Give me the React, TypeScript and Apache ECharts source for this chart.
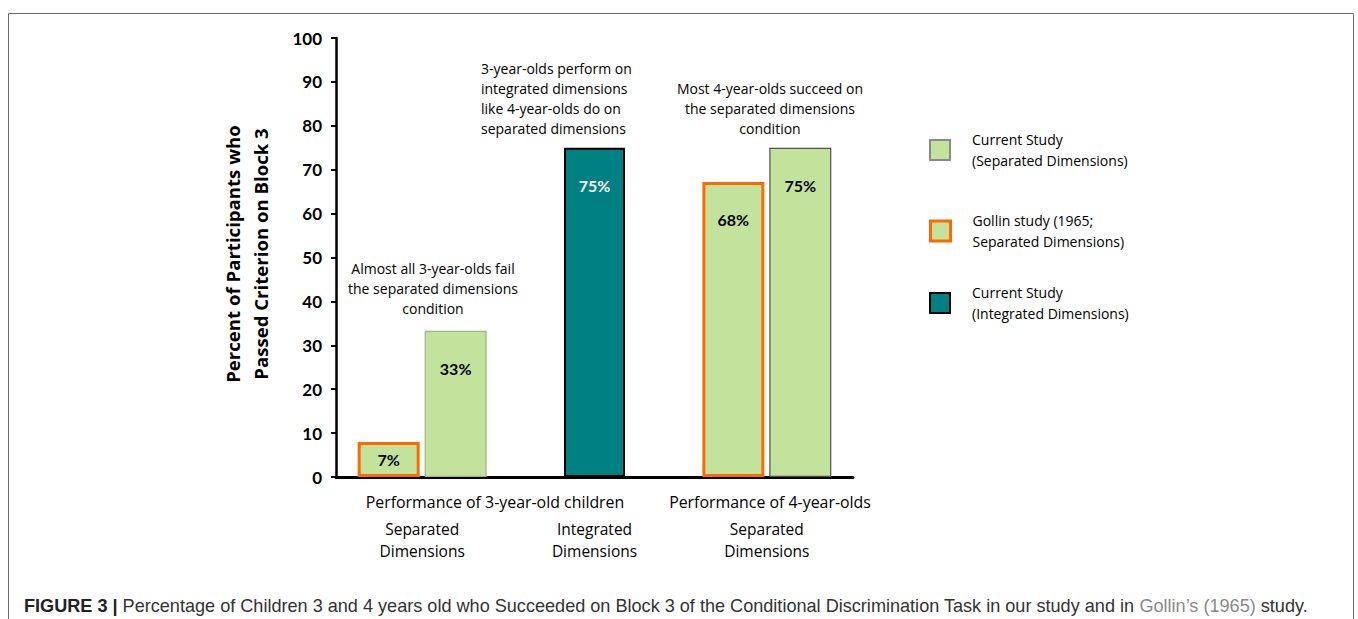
import React, { useEffect, useRef } from "react";
import * as echarts from "echarts";

// ---- data ----
const conditions = ["Separated\nDimensions", "Integrated\nDimensions", "Separated\nDimensions"];
const groupHeadings = ["Performance of 3-year-old children", "Performance of 4-year-olds"];
const seriesNames = [
  "Current Study\n(Separated Dimensions)",
  "Gollin study (1965;\nSeparated Dimensions)",
  "Current Study\n(Integrated Dimensions)",
];
const gollinValues = [8, null, 67.2];
const gollinLabels = ["7%", "", "68%"];
const currentSepValues = [33.3, null, 75];
const currentSepLabels = ["33%", "", "75%"];
const integratedValues = [null, 75, null];
const integratedLabels = ["", "75%", ""];
const annotations = [
  "Almost all 3-year-olds fail\nthe separated dimensions\ncondition",
  "3-year-olds perform on\nintegrated dimensions\nlike 4-year-olds do on\nseparated dimensions",
  "Most 4-year-olds succeed on\nthe separated dimensions\ncondition",
];
const yTitle = "Percent of Participants who\nPassed Criterion on Block 3";
const captionBold = "FIGURE 3 |";
const captionText =
  " Percentage of Children 3 and 4 years old who Succeeded on Block 3 of the Conditional Discrimination Task in our study and in ";
const captionRef = "Gollin\u2019s (1965)";
const captionEnd = " study.";

// ---- styles ----
const FONT = "'Open Sans', Lato, sans-serif";
const TICKFONT = "Lato, 'Open Sans', sans-serif";
const CAPFONT = "'Liberation Sans', Arial, sans-serif";
const GREEN = "#c3e29b";
const ORANGE = "#ff6a00";
const TEAL = "#008080";
const currentBorders = ["#9fb386", "#505050"];

export default function App() {
  const ref = useRef<HTMLDivElement>(null);

  useEffect(() => {
    if (!ref.current) return;
    const chart = echarts.init(ref.current, null, { renderer: "svg" });

    const labelBase = {
      show: true,
      distance: 30,
      fontSize: 16,
      fontWeight: "bold" as const,
      fontFamily: TICKFONT,
      color: "#000",
    };
    const pos = (v: number | null) => (v != null && v < 15 ? "inside" : "insideTop");

    const legendStyles = [
      { color: GREEN, borderColor: "#8a8a8a", borderWidth: 2 },
      { color: GREEN, borderColor: ORANGE, borderWidth: 3 },
      { color: TEAL, borderColor: "#000", borderWidth: 2 },
    ];
    const legendTops = [124, 205, 277];

    const option: any = {
      animation: false,
      backgroundColor: "#fff",
      grid: { left: 336, top: 38, right: 505, bottom: 142, containLabel: false },
      xAxis: [
        {
          type: "category",
          data: conditions,
          axisLine: { lineStyle: { color: "#000", width: 3 } },
          axisTick: { show: false },
          axisLabel: {
            interval: 0,
            margin: 41,
            fontSize: 15.5,
            lineHeight: 22,
            color: "#000",
            fontFamily: FONT,
          },
        },
        { type: "category", data: conditions, show: false },
      ],
      yAxis: {
        type: "value",
        min: 0,
        max: 100,
        interval: 10,
        axisLine: { show: true, lineStyle: { color: "#000", width: 2.5 } },
        axisTick: { show: true, length: 5, lineStyle: { color: "#000", width: 2 } },
        splitLine: { show: false },
        axisLabel: {
          margin: 14,
          fontSize: 17,
          fontWeight: "bold",
          color: "#000",
          fontFamily: TICKFONT,
        },
      },
      legend: seriesNames.map((n, i) => ({
        data: [{ name: n, itemStyle: legendStyles[i] }],
        orient: "vertical",
        left: 929,
        top: legendTops[i],
        padding: 0,
        itemWidth: 20,
        itemHeight: 20,
        icon: "rect",
        selectedMode: false,
        textStyle: {
          fontFamily: FONT,
          fontSize: 14,
          lineHeight: 21,
          color: "#000",
          padding: [10, 0, 0, 17],
        },
      })),
      series: [
        {
          name: seriesNames[1],
          type: "bar",
          xAxisIndex: 0,
          barWidth: 62,
          barGap: "8%",
          data: gollinValues.map((v) => ({ value: v, label: { position: pos(v) } })),
          itemStyle: { color: GREEN, borderColor: ORANGE, borderWidth: 3 },
          label: { ...labelBase, formatter: (p: any) => gollinLabels[p.dataIndex] },
        },
        {
          name: seriesNames[0],
          type: "bar",
          xAxisIndex: 0,
          barWidth: 62,
          barGap: "8%",
          data: currentSepValues.map((v, i) => ({
            value: v,
            label: { position: pos(v) },
            itemStyle: { borderColor: currentBorders[i === 0 ? 0 : 1] },
          })),
          itemStyle: { color: GREEN, borderColor: currentBorders[0], borderWidth: 1.2 },
          label: { ...labelBase, formatter: (p: any) => currentSepLabels[p.dataIndex] },
        },
        {
          name: seriesNames[2],
          type: "bar",
          xAxisIndex: 1,
          barWidth: 61,
          data: integratedValues.map((v) => ({ value: v, label: { position: pos(v) } })),
          itemStyle: { color: TEAL, borderColor: "#000", borderWidth: 2 },
          label: {
            ...labelBase,
            color: "#fff",
            formatter: (p: any) => integratedLabels[p.dataIndex],
          },
        },
      ],
      graphic: [
        {
          type: "rect",
          silent: true,
          z: -10,
          shape: { x: 8.5, y: 13.5, width: 1345, height: 700 },
          style: { fill: "none", stroke: "#6b6b6b", lineWidth: 1 },
        },
        {
          type: "text",
          x: 246,
          y: 254,
          rotation: Math.PI / 2,
          style: {
            text: yTitle,
            fontFamily: FONT,
            fontSize: 18.6,
            fontWeight: "bold",
            lineHeight: 28,
            fill: "#000",
            align: "center",
            verticalAlign: "middle",
          },
        },
        {
          type: "text",
          x: 433,
          y: 288,
          style: {
            text: annotations[0],
            fontFamily: FONT,
            fontSize: 14,
            lineHeight: 20,
            fill: "#000",
            align: "center",
            verticalAlign: "middle",
          },
        },
        {
          type: "text",
          x: 481,
          y: 98.5,
          style: {
            text: annotations[1],
            fontFamily: FONT,
            fontSize: 14,
            lineHeight: 20,
            fill: "#000",
            align: "left",
            verticalAlign: "middle",
          },
        },
        {
          type: "text",
          x: 770,
          y: 108,
          style: {
            text: annotations[2],
            fontFamily: FONT,
            fontSize: 14,
            lineHeight: 20,
            fill: "#000",
            align: "center",
            verticalAlign: "middle",
          },
        },
        {
          type: "text",
          x: 495,
          y: 502,
          style: {
            text: groupHeadings[0],
            fontFamily: FONT,
            fontSize: 15.9,
            fill: "#000",
            align: "center",
            verticalAlign: "middle",
          },
        },
        {
          type: "text",
          x: 770,
          y: 502,
          style: {
            text: groupHeadings[1],
            fontFamily: FONT,
            fontSize: 15.9,
            fill: "#000",
            align: "center",
            verticalAlign: "middle",
          },
        },
        {
          type: "text",
          x: 24,
          y: 606,
          style: {
            text:
              "{b|" + captionBold + "}{n|" + captionText + "}{g|" + captionRef + "}{n|" + captionEnd + "}",
            verticalAlign: "middle",
            align: "left",
            rich: {
              b: { fontFamily: CAPFONT, fontWeight: "bold", fontSize: 18.1, fill: "#222" },
              n: { fontFamily: CAPFONT, fontSize: 18.1, fill: "#333" },
              g: { fontFamily: CAPFONT, fontSize: 18.1, fill: "#8a8a8a" },
            },
          },
        },
      ],
    };

    chart.setOption(option);
    return () => chart.dispose();
  }, []);

  return (
    <div
      ref={ref}
      style={{ position: "absolute", left: 0, top: 0, width: 1358, height: 619 }}
    />
  );
}
